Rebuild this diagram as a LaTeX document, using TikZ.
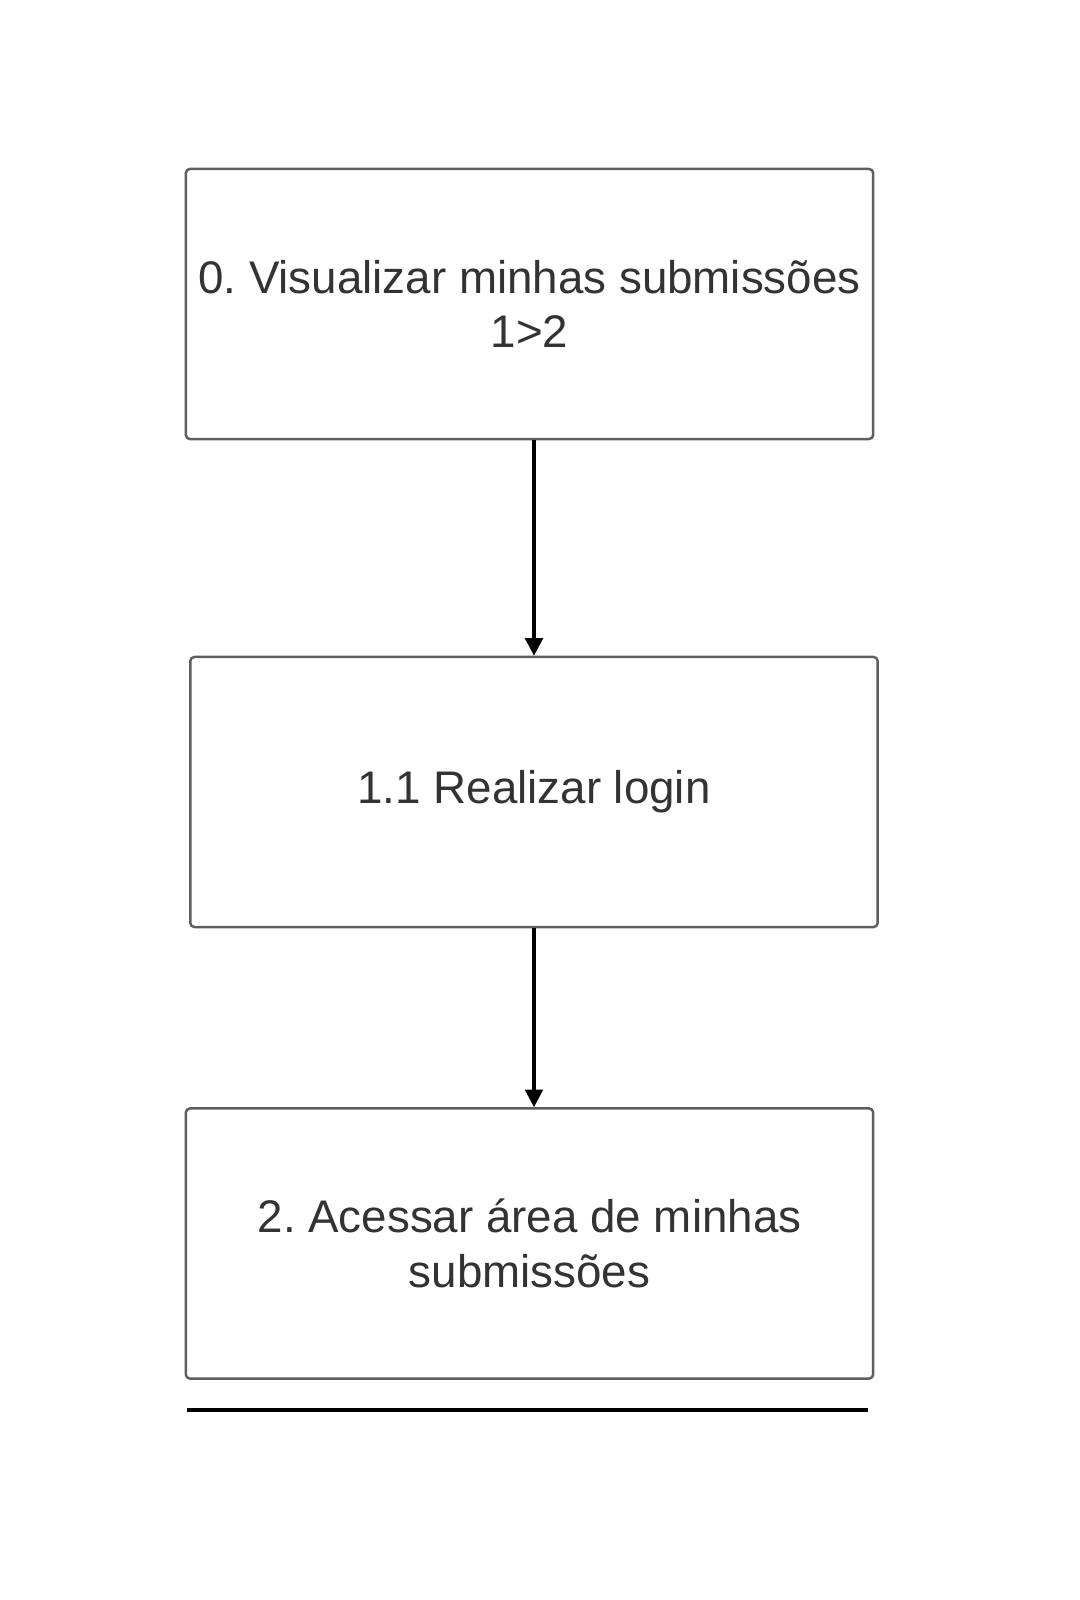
\documentclass[tikz,border=0pt]{standalone}
\usepackage{fontspec}
\setmainfont{Liberation Sans}
\usepackage{xcolor}
\usepackage{tikz}
\usetikzlibrary{arrows.meta, positioning}
\definecolor{boxgray}{HTML}{5E5E5E}
\definecolor{txtgray}{HTML}{333333}
\frenchspacing

\begin{document}
\begin{tikzpicture}[x=0.01cm, y=-0.01cm,
  font=\fontsize{13}{15.6}\selectfont,
  passo/.style={draw=boxgray, line width=0.7pt, rounded corners=1.2pt, text=txtgray,
    minimum width=6.87cm, minimum height=2.7cm, align=center, inner sep=0pt},
  seta/.style={draw=black, line width=1pt, -{Triangle[length=5pt, width=5pt]}}]
  \useasboundingbox (0,0) rectangle (1080,1600);
  \node[passo] (visualizar) at (529.5,304) {0. Visualizar minhas submiss\~oes\\1>2};
  \node[passo] (login) at (534,792) {1.1 Realizar login};
  \node[passo] (acessar) at (529.5,1243.5) {2. Acessar \'area de minhas\\submiss\~oes};
  \draw[seta] (visualizar.south -| login.north) -- (login.north);
  \draw[seta] (login.south) -- (acessar.north -| login.south);
  % linha final
  \coordinate (linhaE) at (187,1410);
  \coordinate (linhaD) at (868,1410);
  \draw[line width=1pt] (linhaE) -- (linhaD);
\end{tikzpicture}
\end{document}
